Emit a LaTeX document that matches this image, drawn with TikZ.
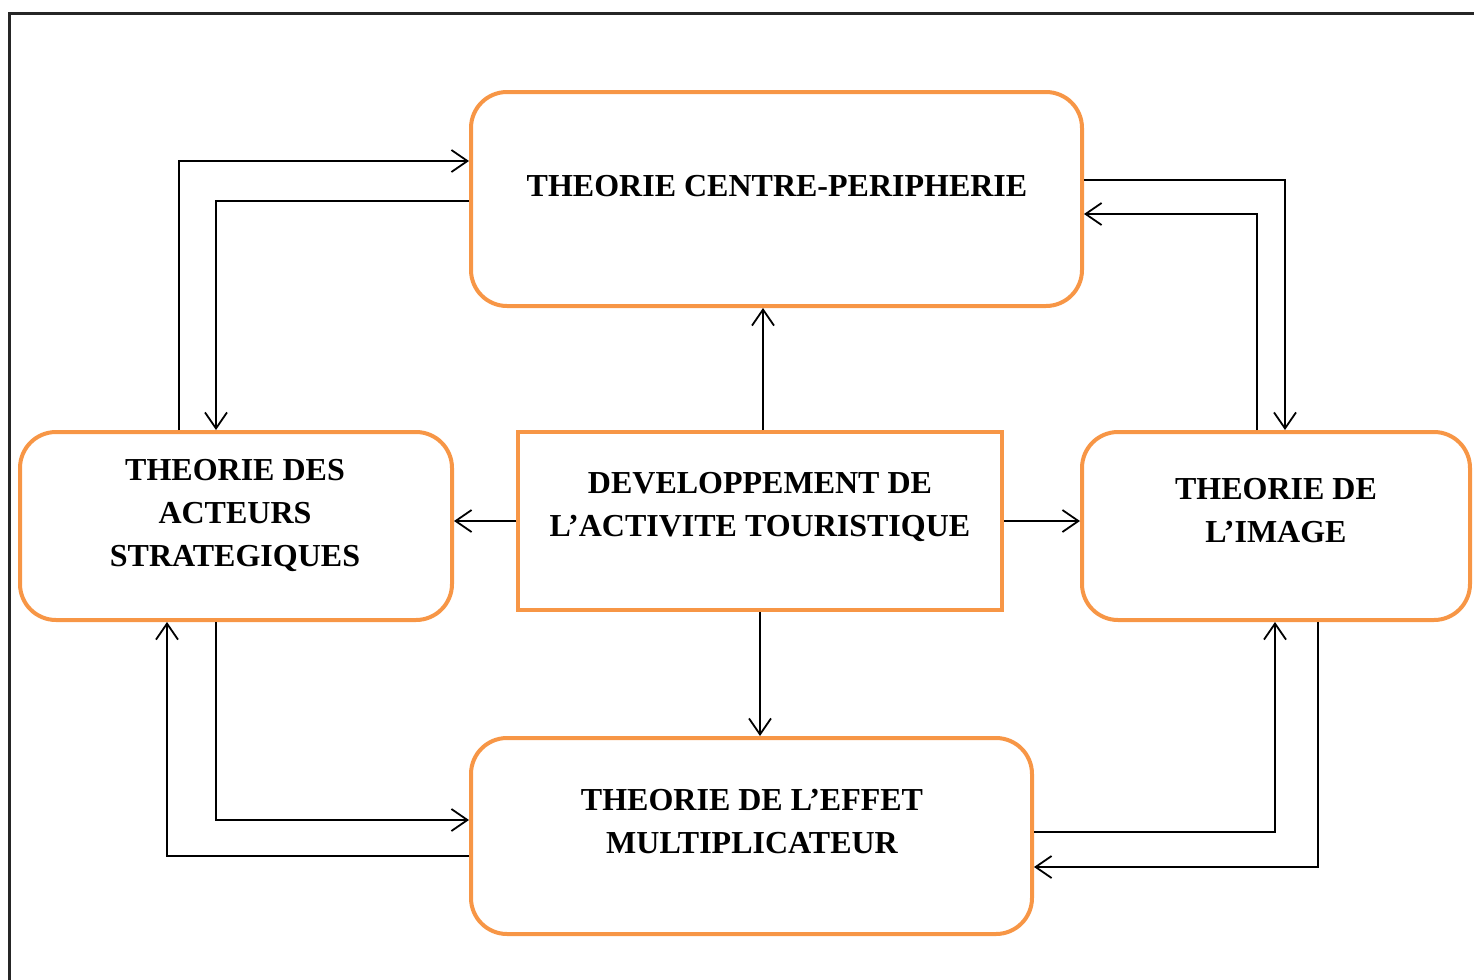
\documentclass[tikz,border=0pt]{standalone}
\usepackage{fontspec}
\setmainfont{Liberation Serif}
\usetikzlibrary{arrows.meta}
\definecolor{boxorange}{HTML}{F79646}
\begin{document}
\begin{tikzpicture}[x=0.5pt,y=-0.5pt,
  rbox/.style={draw=boxorange,line width=2pt,rounded corners=18pt,inner sep=0pt},
  sbox/.style={draw=boxorange,line width=2pt,inner sep=0pt},
  lbl/.style={align=center,font=\fontsize{16}{21.5}\selectfont\bfseries,inner sep=0pt},
  arr/.style={draw=black,line width=0.9pt,-{Straight Barb[length=8pt,width=11pt,line width=0.9pt]}}]
\useasboundingbox (0,0) rectangle (1474,980);
\draw[line width=1.2pt,black!85] (9.5,980) -- (9.5,13.5) -- (1474,13.5);
% boxes
\node[rbox,minimum width=305.5pt,minimum height=107pt] (T) at (776.5,199) {};
\node[rbox,minimum width=216pt,minimum height=94pt] (L) at (236,526) {};
\node[sbox,minimum width=242pt,minimum height=89pt] (C) at (760,521) {};
\node[rbox,minimum width=194pt,minimum height=94pt] (R) at (1276,526) {};
\node[rbox,minimum width=280.5pt,minimum height=98pt] (B) at (751.5,836) {};
% labels
\node[lbl] (Tt) at (777,186) {THEORIE CENTRE-PERIPHERIE};
\node[lbl] (Lt) at (235,515) {THEORIE DES\\ACTEURS\\STRATEGIQUES};
\node[lbl] (Ct) at (760,507) {DEVELOPPEMENT DE\\L'ACTIVITE TOURISTIQUE};
\node[lbl] (Rt) at (1276,511) {THEORIE DE\\L'IMAGE};
\node[lbl] (Bt) at (752,822) {THEORIE DE L'EFFET\\MULTIPLICATEUR};
% connectors
\draw[arr] ([xshift=80.5pt]L.north west) |- ([yshift=19pt]T.west);
\draw[arr] ([yshift=-1pt]T.west) -| ([xshift=99pt]L.north west);
\draw[arr] ([yshift=9.5pt]T.east) -| ([xshift=102.5pt]R.north west);
\draw[arr] ([xshift=88.5pt]R.north west) |- ([yshift=-7.5pt]T.east);
\draw[arr] ([xshift=1.5pt]C.north) -- ([xshift=1.5pt]C.north |- T.south);
\draw[arr] (C.west) -- (C.west -| L.east);
\draw[arr] (C.east) -- (C.east -| R.west);
\draw[arr] (C.south) -- (C.south |- B.north);
\draw[arr] ([xshift=99pt]L.south west) |- ([yshift=8pt]B.west);
\draw[arr] ([yshift=-10pt]B.west) -| ([xshift=74.5pt]L.south west);
\draw[arr] ([yshift=2pt]B.east) -| ([xshift=97.5pt]R.south west);
\draw[arr] ([xshift=119pt]R.south west) |- ([yshift=-15.5pt]B.east);
\end{tikzpicture}
\end{document}
